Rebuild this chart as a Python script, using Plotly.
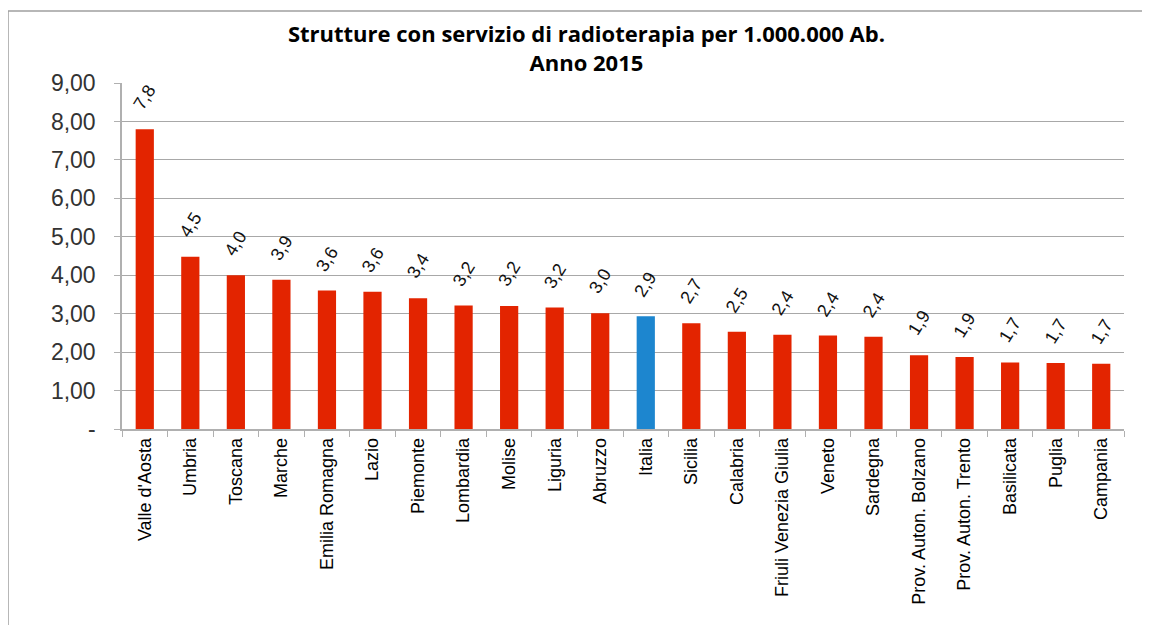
import plotly.graph_objects as go

regions = ["Valle d'Aosta", "Umbria", "Toscana", "Marche", "Emilia Romagna", "Lazio",
           "Piemonte", "Lombardia", "Molise", "Liguria", "Abruzzo", "Italia", "Sicilia",
           "Calabria", "Friuli Venezia Giulia", "Veneto", "Sardegna", "Prov. Auton. Bolzano",
           "Prov. Auton. Trento", "Basilicata", "Puglia", "Campania"]
values = [7.80, 4.48, 4.00, 3.88, 3.60, 3.57, 3.40, 3.21, 3.20, 3.16, 3.01, 2.93, 2.75,
          2.53, 2.45, 2.43, 2.40, 1.92, 1.87, 1.73, 1.72, 1.70]
labels = ["7,8", "4,5", "4,0", "3,9", "3,6", "3,6", "3,4", "3,2", "3,2", "3,2", "3,0", "2,9",
          "2,7", "2,5", "2,4", "2,4", "2,4", "1,9", "1,9", "1,7", "1,7", "1,7"]
tick_vals = [0, 1, 2, 3, 4, 5, 6, 7, 8, 9]
tick_text = ["-", "1,00", "2,00", "3,00", "4,00", "5,00", "6,00", "7,00", "8,00", "9,00"]

RED = "#e32400"
BLUE = "#1d86cf"
colors = [BLUE if r == "Italia" else RED for r in regions]

fig = go.Figure(go.Bar(x=regions, y=values, marker=dict(color=colors, line=dict(width=0)),
                       width=0.4, hoverinfo="x+y"))

for r, v, t in zip(regions, values, labels):
    fig.add_annotation(x=r, y=v, text=t, showarrow=False, textangle=-58,
                       yshift=32, xshift=0,
                       font=dict(family="Liberation Sans, Arial", size=18, color="#111"))

fig.update_layout(
    width=1150, height=625,
    margin=dict(l=114, r=34, t=75, b=204),
    paper_bgcolor="white", plot_bgcolor="white",
    showlegend=False,
    title=dict(text="<b>Strutture con servizio di radioterapia per 1.000.000 Ab.<br>Anno 2015</b>",
               x=0.503, xanchor="center", y=0.945, yanchor="top",
               font=dict(family="Open Sans, DejaVu Sans", size=22, color="#000")),
    xaxis=dict(tickangle=-90, tickfont=dict(family="Liberation Sans, Arial", size=18, color="#000"),
               showline=True, linecolor="#b0b0b0", linewidth=1.5,
               ticks="outside", tickson="boundaries", ticklen=6, tickcolor="#b0b0b0",
               showgrid=False, range=[-0.5, len(regions) - 0.5], automargin=False),
    yaxis=dict(range=[0, 9], tickvals=tick_vals, ticktext=tick_text,
               tickfont=dict(family="Liberation Sans, Arial", size=23, color="#333"),
               showgrid=True, gridcolor="#a8a8a8", gridwidth=1,
               showline=True, linecolor="#b0b0b0", linewidth=1.5,
               ticks="outside", ticklen=6, tickcolor="#b0b0b0",
               ticklabelstandoff=14, zeroline=False, automargin=False),
)

fig.add_shape(type="rect", xref="paper", yref="paper",
              x0=-114 / 1002, x1=1.2, y0=-1.0, y1=1 + (83 - 11) / 346,
              line=dict(color="#a0a0a0", width=1.5), fillcolor="rgba(0,0,0,0)", layer="below")

fig.write_html("out.html")
